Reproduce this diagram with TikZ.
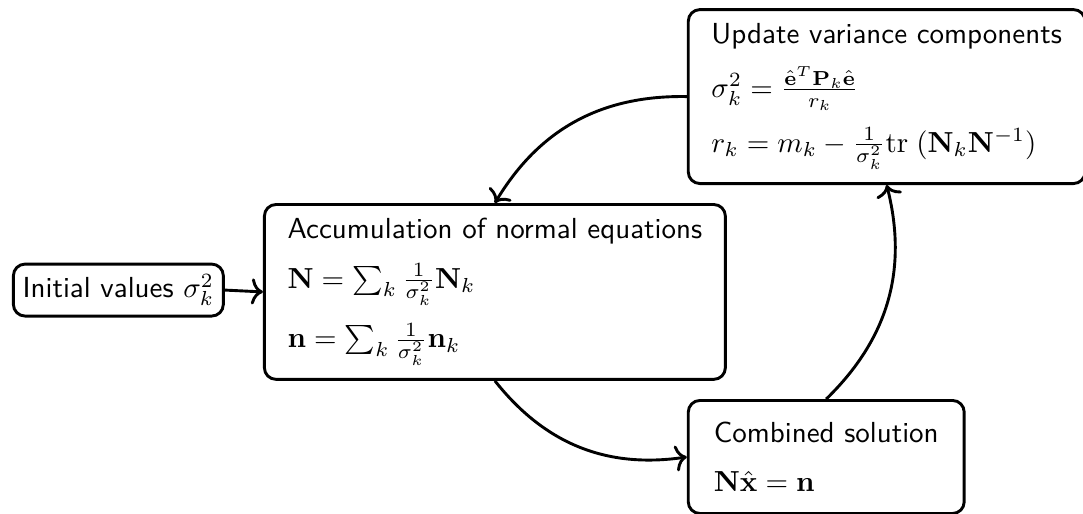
\documentclass[tikz,border=0pt]{standalone}
\usepackage{amsmath,amssymb}
\usetikzlibrary{arrows.meta,positioning}

\begin{document}
\begin{tikzpicture}[
  stage/.style={
    rectangle, rounded corners=4pt,
    draw=black, line width=1pt,
    font=\sffamily,
    align=left,
    inner xsep=8pt, inner ysep=4pt
  },
  conn/.style={-{To[length=4pt,width=9pt]}, line width=1pt, draw=black}
]
\useasboundingbox (0,0) rectangle (13.13,6.22);

\node[stage, anchor=west, inner sep=3pt, minimum width=2.545cm, minimum height=0.63cm] (init) at (0.145,2.703)
  {Initial values $\sigma_k^2$};
\node[stage, anchor=north west, minimum width=5.54cm, minimum height=2.12cm] (acc) at (3.188,3.758)
  {Accumulation of normal equations\\[5pt]
   $\mathbf{N}=\sum_k \frac{1}{\sigma_k^2}\mathbf{N}_k$\\[5pt]
   $\mathbf{n}=\sum_k \frac{1}{\sigma_k^2}\mathbf{n}_k$};
\node[stage, anchor=north west, minimum width=4.776cm, minimum height=2.109cm] (upd) at (8.327,6.121)
  {Update variance components\\[5pt]
   $\sigma_k^2=\frac{\hat{\mathbf{e}}^T\mathbf{P}_k\hat{\mathbf{e}}}{r_k}$\\[5pt]
   $r_k=m_k-\frac{1}{\sigma_k^2}\mathrm{tr}\;(\mathbf{N}_k\mathbf{N}^{-1})$};
\node[stage, anchor=north west, minimum width=3.345cm, minimum height=1.37cm] (comb) at (8.327,1.382)
  {Combined solution\\[5pt]
   $\mathbf{N}\hat{\mathbf{x}}=\mathbf{n}$};

\draw[conn] (init.east) -- (acc.west);
\draw[conn] (acc.south) to[bend right] (comb.west);
\draw[conn] (comb.north) to[bend right] (upd.south);
\draw[conn] (upd.west) to[bend right] (acc.north);
\end{tikzpicture}
\end{document}
